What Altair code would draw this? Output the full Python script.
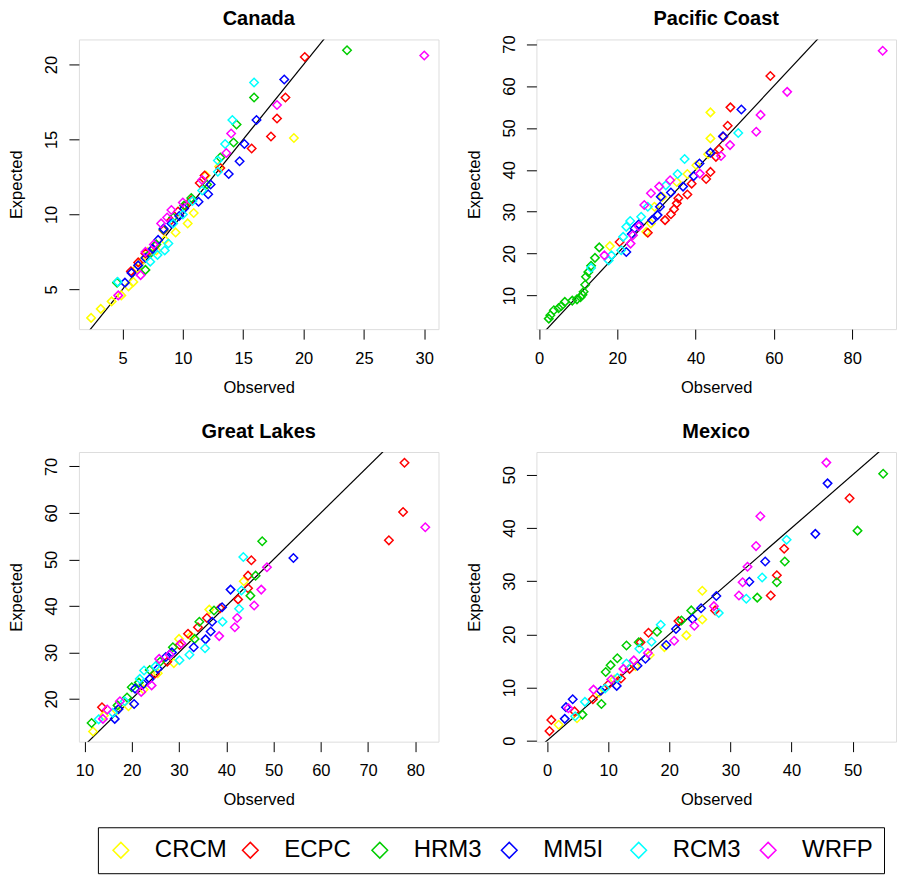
import altair as alt
import pandas as pd

MODELS = ["CRCM", "ECPC", "HRM3", "MM5I", "RCM3", "WRFP"]
COLORS = ["#FFFF00", "#FF0000", "#00CD00", "#0000FF", "#00FFFF", "#FF00FF"]
REGIONS = ["Canada", "Pacific Coast", "Great Lakes", "Mexico"]

# ---------------- Canada ----------------
CAN_CRCM_OBS = [2.4, 3.2, 4.1, 4.9, 5.5, 5.9, 6.2, 6.6, 7.1, 7.8, 8.5, 9.4, 10.4, 10.9, 11.9, 13.0, 19.2]
CAN_CRCM_EXP = [3.1, 3.7, 4.2, 4.6, 5.2, 5.5, 6.4, 6.9, 7.5, 7.6, 8.3, 8.8, 9.4, 10.1, 12.6, 13.2, 15.1]
CAN_ECPC_OBS = [5.7, 6.3, 6.9, 7.7, 8.4, 9.0, 9.6, 10.2, 10.7, 11.4, 11.8, 13.1, 15.7, 17.3, 17.8, 18.5, 20.1]
CAN_ECPC_EXP = [6.2, 6.8, 7.4, 7.9, 8.95, 9.6, 10.2, 10.6, 10.95, 12.1, 12.6, 13.1, 14.4, 15.2, 16.4, 17.8, 20.5]
CAN_HRM3_OBS = [4.55, 6.9, 7.3, 7.8, 8.4, 9.2, 10.1, 10.7, 12.0, 13.1, 14.2, 14.45, 15.9, 23.6]
CAN_HRM3_EXP = [5.45, 6.3, 7.4, 8.0, 9.0, 9.8, 10.6, 11.1, 12.0, 13.8, 14.8, 16.0, 17.8, 20.95]
CAN_MM5I_OBS = [5.2, 5.75, 6.3, 6.9, 7.5, 7.95, 8.4, 9.05, 9.7, 10.1, 11.3, 12.1, 12.3, 13.8, 14.7, 15.1, 16.1, 18.4]
CAN_MM5I_EXP = [5.45, 6.1, 6.6, 7.1, 7.7, 8.3, 9.05, 9.4, 9.9, 10.4, 10.85, 11.35, 12.0, 12.7, 13.55, 14.7, 16.3, 19.0]
CAN_RCM3_OBS = [4.6, 7.3, 7.9, 8.5, 8.8, 9.2, 10.0, 10.8, 11.6, 12.9, 12.9, 13.5, 14.1, 15.9]
CAN_RCM3_EXP = [5.5, 6.85, 7.3, 7.6, 8.06, 9.4, 10.0, 10.9, 11.6, 12.85, 13.6, 14.7, 16.3, 18.8]
CAN_WRFP_OBS = [4.65, 6.5, 6.9, 7.6, 8.2, 8.7, 9.05, 10.0, 11.6, 13.6, 14.0, 17.8, 30.0]
CAN_WRFP_EXP = [4.6, 5.95, 7.5, 8.0, 9.4, 9.8, 10.3, 10.8, 12.3, 14.1, 15.4, 17.3, 20.6]

# ---------------- Pacific Coast ----------------
PAC_CRCM_OBS = [18.1, 27.4, 28.6, 29.5, 31.5, 35.2, 37.9, 40.2, 43.2, 43.8, 43.8]
PAC_CRCM_EXP = [21.8, 25.2, 27.2, 31.2, 33.5, 37.1, 39.0, 41.1, 43.7, 47.5, 53.7]
PAC_ECPC_OBS = [20.6, 27.8, 32.2, 33.7, 34.5, 35.2, 35.6, 37.9, 39.0, 42.7, 43.8, 45.2, 46.0, 47.1, 48.2, 48.9, 59.1]
PAC_ECPC_EXP = [22.8, 25.0, 28.0, 29.4, 30.6, 32.0, 33.2, 34.1, 36.7, 37.8, 39.5, 43.1, 44.9, 47.9, 50.5, 54.9, 62.4]
PAC_HRM3_OBS = [2.5, 2.9, 3.8, 5.0, 5.7, 6.6, 8.5, 9.7, 10.6, 11.1, 11.4, 11.8, 12.0, 12.6, 13.3, 14.3, 15.4]
PAC_HRM3_EXP = [4.5, 5.3, 6.5, 7.0, 7.5, 8.5, 8.8, 9.1, 9.6, 10.2, 10.9, 12.6, 14.5, 15.6, 17.1, 19.0, 21.5]
PAC_MM5I_OBS = [22.3, 23.7, 24.4, 25.5, 28.9, 30.3, 30.9, 31.1, 33.7, 36.8, 39.5, 41.0, 43.8, 47.0, 51.7]
PAC_MM5I_EXP = [20.4, 24.7, 26.0, 27.0, 28.0, 29.2, 31.2, 33.6, 34.6, 36.0, 38.5, 41.5, 44.1, 48.0, 54.4]
PAC_RCM3_OBS = [13.3, 17.8, 18.5, 21.0, 21.5, 22.3, 23.3, 26.1, 27.8, 32.4, 35.4, 37.2, 50.9]
PAC_RCM3_EXP = [16.6, 18.4, 19.6, 20.8, 24.0, 26.4, 27.8, 28.8, 31.2, 36.3, 39.0, 42.6, 48.8]
PAC_WRFP_OBS = [16.7, 23.4, 24.0, 25.5, 26.9, 28.6, 30.7, 33.5, 41.1, 46.5, 48.8, 55.5, 56.6, 63.4, 87.8]
PAC_WRFP_EXP = [19.6, 22.4, 24.4, 26.5, 31.6, 34.4, 36.0, 37.5, 39.1, 43.3, 45.9, 49.1, 53.1, 58.6, 68.4]

# ---------------- Great Lakes ----------------
GL_CRCM_OBS = [11.8, 14.1, 16.8, 19.3, 22.5, 25.5, 28.9, 30.0, 32.5, 36.4, 43.7]
GL_CRCM_EXP = [13.0, 16.4, 17.5, 18.4, 22.0, 25.5, 27.7, 32.9, 33.5, 39.2, 45.3]
GL_ECPC_OBS = [13.7, 24.9, 27.5, 30.1, 31.9, 34.0, 35.9, 38.7, 42.5, 44.6, 44.6, 45.3, 74.4, 77.4, 77.7]
GL_ECPC_EXP = [18.2, 25.4, 28.0, 31.6, 34.0, 35.4, 37.4, 39.5, 41.4, 43.8, 46.5, 49.8, 54.1, 60.2, 70.8]
GL_HRM3_OBS = [11.5, 17.0, 19.0, 20.0, 21.5, 23.8, 26.0, 28.7, 33.3, 34.3, 37.4, 45.1, 46.2, 47.6]
GL_HRM3_EXP = [14.8, 18.6, 20.3, 22.5, 23.5, 26.2, 28.0, 31.1, 32.9, 36.6, 39.0, 42.2, 46.5, 53.9]
GL_MM5I_OBS = [16.4, 17.2, 20.5, 20.7, 22.5, 23.8, 25.5, 27.2, 28.5, 33.1, 35.6, 36.7, 37.0, 39.1, 40.9, 54.2]
GL_MM5I_EXP = [15.7, 17.8, 18.9, 22.2, 23.2, 24.3, 26.5, 29.0, 30.0, 31.1, 32.8, 34.5, 36.6, 39.7, 43.5, 50.3]
GL_RCM3_OBS = [13.0, 16.0, 18.5, 21.7, 22.6, 25.0, 30.1, 32.2, 35.5, 39.2, 42.7, 43.2, 43.6]
GL_RCM3_EXP = [15.6, 17.0, 19.5, 24.3, 26.1, 27.0, 28.3, 29.5, 30.9, 36.6, 39.4, 43.3, 50.5]
GL_WRFP_OBS = [13.9, 14.8, 17.5, 22.0, 24.2, 25.8, 28.0, 30.5, 38.5, 41.8, 42.3, 45.9, 47.4, 48.6, 82.1]
GL_WRFP_EXP = [15.7, 17.7, 19.5, 21.5, 22.9, 28.6, 29.5, 31.9, 33.5, 35.4, 37.4, 40.1, 43.5, 48.3, 56.9]

# ---------------- Mexico ----------------
MEX_CRCM_OBS = [1.9, 4.9, 8.5, 11.0, 14.5, 16.8, 19.2, 22.8, 25.4, 25.4]
MEX_CRCM_EXP = [3.0, 4.2, 9.0, 11.5, 14.0, 16.1, 17.6, 19.8, 22.8, 28.2]
MEX_ECPC_OBS = [0.4, 0.7, 4.5, 7.5, 10.0, 12.1, 13.5, 15.3, 16.6, 21.5, 27.5, 36.6, 37.6, 38.8, 49.5]
MEX_ECPC_EXP = [1.8, 3.9, 5.5, 7.8, 10.5, 11.7, 13.5, 18.5, 20.3, 22.5, 24.5, 27.3, 31.1, 36.1, 45.6]
MEX_HRM3_OBS = [5.8, 8.9, 9.6, 10.4, 11.5, 13.0, 15.0, 18.0, 22.0, 23.6, 34.4, 37.6, 38.9, 50.8, 55.0]
MEX_HRM3_EXP = [4.9, 6.9, 12.9, 14.2, 15.5, 17.9, 18.5, 20.5, 22.6, 24.5, 26.9, 29.8, 33.7, 39.5, 50.2]
MEX_MM5I_OBS = [2.9, 3.1, 4.2, 8.8, 11.4, 14.8, 16.1, 19.5, 21.1, 23.8, 25.2, 27.7, 33.1, 35.7, 43.9, 45.9]
MEX_MM5I_EXP = [4.1, 6.3, 7.8, 9.4, 10.3, 14.1, 15.4, 18.0, 21.0, 22.9, 24.9, 27.2, 29.9, 33.7, 38.9, 48.4]
MEX_RCM3_OBS = [4.6, 6.2, 9.5, 11.5, 13.0, 15.1, 17.1, 18.6, 28.1, 32.6, 35.2, 39.2]
MEX_RCM3_EXP = [4.6, 7.3, 9.8, 11.8, 14.5, 17.3, 18.6, 21.8, 24.0, 26.7, 30.7, 37.8]
MEX_WRFP_OBS = [3.5, 7.6, 10.5, 12.5, 14.2, 16.5, 20.8, 24.1, 27.3, 31.4, 32.0, 32.8, 34.2, 34.9, 45.7]
MEX_WRFP_EXP = [6.1, 9.6, 11.5, 13.5, 15.1, 16.5, 18.8, 21.6, 25.3, 27.3, 29.8, 32.7, 36.6, 42.2, 52.3]

# axis ticks / domains
CAN_XTICKS = [5, 10, 15, 20, 25, 30]
CAN_YTICKS = [5, 10, 15, 20]
PAC_XTICKS = [0, 20, 40, 60, 80]
PAC_YTICKS = [10, 20, 30, 40, 50, 60, 70]
GL_XTICKS = [10, 20, 30, 40, 50, 60, 70, 80]
GL_YTICKS = [20, 30, 40, 50, 60, 70]
MEX_XTICKS = [0, 10, 20, 30, 40, 50]
MEX_YTICKS = [0, 10, 20, 30, 40, 50]

CAN_XDOM, CAN_YDOM = [1.39, 31.18], [2.35, 21.67]
PAC_XDOM, PAC_YDOM = [-0.66, 91.2], [2.0, 71.1]
GL_XDOM, GL_YDOM = [8.82, 84.9], [10.8, 73.1]
MEX_XDOM, MEX_YDOM = [-1.74, 57.1], [-0.19, 54.3]

SERIES = {
    "Canada": [(CAN_CRCM_OBS, CAN_CRCM_EXP), (CAN_ECPC_OBS, CAN_ECPC_EXP), (CAN_HRM3_OBS, CAN_HRM3_EXP),
               (CAN_MM5I_OBS, CAN_MM5I_EXP), (CAN_RCM3_OBS, CAN_RCM3_EXP), (CAN_WRFP_OBS, CAN_WRFP_EXP)],
    "Pacific Coast": [(PAC_CRCM_OBS, PAC_CRCM_EXP), (PAC_ECPC_OBS, PAC_ECPC_EXP), (PAC_HRM3_OBS, PAC_HRM3_EXP),
                      (PAC_MM5I_OBS, PAC_MM5I_EXP), (PAC_RCM3_OBS, PAC_RCM3_EXP), (PAC_WRFP_OBS, PAC_WRFP_EXP)],
    "Great Lakes": [(GL_CRCM_OBS, GL_CRCM_EXP), (GL_ECPC_OBS, GL_ECPC_EXP), (GL_HRM3_OBS, GL_HRM3_EXP),
                    (GL_MM5I_OBS, GL_MM5I_EXP), (GL_RCM3_OBS, GL_RCM3_EXP), (GL_WRFP_OBS, GL_WRFP_EXP)],
    "Mexico": [(MEX_CRCM_OBS, MEX_CRCM_EXP), (MEX_ECPC_OBS, MEX_ECPC_EXP), (MEX_HRM3_OBS, MEX_HRM3_EXP),
               (MEX_MM5I_OBS, MEX_MM5I_EXP), (MEX_RCM3_OBS, MEX_RCM3_EXP), (MEX_WRFP_OBS, MEX_WRFP_EXP)],
}
SETTINGS = {
    "Canada": (CAN_XDOM, CAN_YDOM, CAN_XTICKS, CAN_YTICKS, 10),
    "Pacific Coast": (PAC_XDOM, PAC_YDOM, PAC_XTICKS, PAC_YTICKS, 5.5),
    "Great Lakes": (GL_XDOM, GL_YDOM, GL_XTICKS, GL_YTICKS, 10),
    "Mexico": (MEX_XDOM, MEX_YDOM, MEX_XTICKS, MEX_YTICKS, 10),
}

FONT = "Liberation Sans"
W, H = 360, 290


def panel(region):
    xdom, ydom, xticks, yticks, toff = SETTINGS[region]
    rows = []
    order = 0
    for model, (obs, exp) in zip(MODELS, SERIES[region]):
        for o, e in zip(obs, exp):
            rows.append({"model": model, "obs": o, "exp": e, "ord": order})
            order += 1
    df = pd.DataFrame(rows)

    x = alt.X("obs:Q", scale=alt.Scale(domain=xdom, nice=False, zero=False),
              axis=alt.Axis(values=xticks, title="Observed", domain=False, grid=False,
                            tickSize=10, tickColor="black", tickWidth=1,
                            labelFontSize=16.5, labelColor="black", labelFont=FONT,
                            labelPadding=11, labelFlush=False, labelOverlap=False,
                            titleFontSize=16.5, titleFontWeight="normal", titleColor="black",
                            titleFont=FONT, titleY=58, titleBaseline="middle"))
    y = alt.Y("exp:Q", scale=alt.Scale(domain=ydom, nice=False, zero=False),
              axis=alt.Axis(values=yticks, title="Expected", domain=False, grid=False,
                            tickSize=10, tickColor="black", tickWidth=1,
                            labelFontSize=16.5, labelColor="black", labelFont=FONT,
                            labelAngle=270, labelAlign="center", labelBaseline="bottom",
                            labelPadding=9, labelFlush=False, labelOverlap=False,
                            titleFontSize=16.5, titleFontWeight="normal", titleColor="black",
                            titleFont=FONT, titleX=-62, titleBaseline="middle"))

    color = alt.Color("model:N", scale=alt.Scale(domain=MODELS, range=COLORS),
                      legend=alt.Legend(title=None, orient="none", legendX=19, legendY=788.7,
                                        direction="horizontal", symbolType="diamond",
                                        symbolSize=246, symbolStrokeWidth=1.5,
                                        labelFontSize=24, labelFont=FONT, labelColor="black",
                                        labelOffset=22, columnPadding=11.6, gridAlign="all",
                                        padding=11, strokeColor="black", fillColor="white",
                                        labelLimit=0))

    pts = alt.Chart(df).mark_point(shape="diamond", filled=False, size=72,
                                   strokeWidth=1.5, opacity=1, clip=True).encode(
        x=x, y=y, color=color, order="ord:Q")

    lo = min(xdom[0], ydom[0])
    hi = max(xdom[1], ydom[1])
    line_df = pd.DataFrame({"obs": [lo, hi], "exp": [lo, hi]})
    line = alt.Chart(line_df).mark_line(color="black", strokeWidth=1.2, clip=True).encode(x=x, y=y)

    return alt.layer(line, pts).properties(
        width=W, height=H,
        title=alt.TitleParams(region, fontSize=20, fontWeight="bold", font=FONT,
                              color="black", anchor="middle", offset=toff, frame="group"))


row1 = alt.hconcat(panel("Canada"), panel("Pacific Coast"), spacing=26)
row2 = alt.hconcat(panel("Great Lakes"), panel("Mexico"), spacing=26)
chart = alt.vconcat(row1, row2, spacing=25).properties(
    padding={"left": 0, "top": 0, "right": 0, "bottom": 0}
).configure_view(stroke="black", strokeWidth=1).configure(font=FONT, background="white")

chart.save("out.html", embed_options={"renderer": "svg", "actions": False})
